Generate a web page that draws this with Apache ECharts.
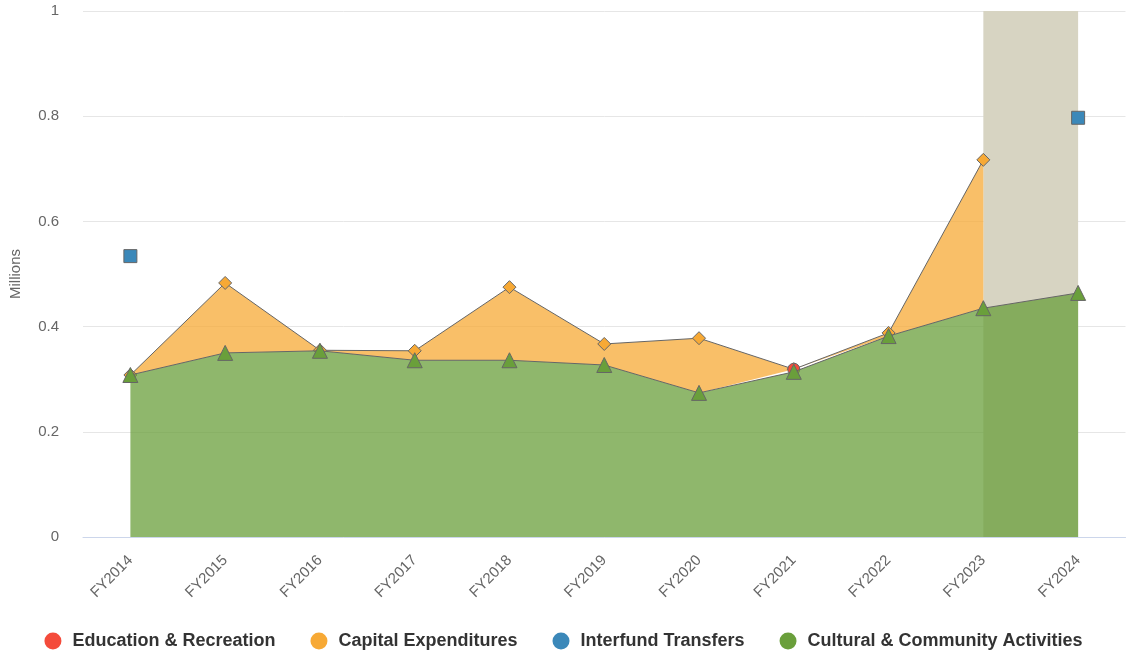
<!DOCTYPE html>
<html>
<head>
<meta charset="utf-8">
<style>
  html, body { margin: 0; padding: 0; background: #ffffff; }
  #chart { width: 1127px; height: 656px; }
</style>
<script src="https://cdn.jsdelivr.net/npm/echarts@6/dist/echarts.min.js"></script>
</head>
<body>
<div id="chart"></div>
<script>
// Fiscal years along the x axis
const years = ['FY2014', 'FY2015', 'FY2016', 'FY2017', 'FY2018', 'FY2019',
               'FY2020', 'FY2021', 'FY2022', 'FY2023', 'FY2024'];

// Values in millions, stacked in this order (bottom to top)
const culturalCommunity = [0.308, 0.350, 0.354, 0.336, 0.336, 0.327, 0.274, 0.314, 0.382, 0.435, 0.464];
const educationRecreation = [null, null, null, null, null, null, null, 0.005, null, null, null];
const capitalExpenditures = [0, 0.133, 0.001, 0.018, 0.139, 0.040, 0.104, 0, 0.006, 0.282, null];
const interfundTransfers = [0.226, null, null, null, null, null, null, null, null, null, 0.333];

// Value axis ticks
const yTicks = [0, 0.2, 0.4, 0.6, 0.8, 1];

// Budget years highlighted as a shaded band
const highlightFrom = 'FY2023';
const highlightTo = 'FY2024';

const FONT = '"Liberation Sans", Arial, Helvetica, sans-serif';
const LINE_GREY = '#666666';

const colors = {
  education: '#f44b3b',
  capital: '#f7a935',
  interfund: '#3b88b9',
  cultural: '#6a9f3b'
};

function areaSeries(name, data, color, symbol, size, z, extra) {
  return Object.assign({
    name: name,
    type: 'line',
    stack: 'total',
    data: data,
    z: z,
    symbol: symbol,
    symbolSize: size,
    showAllSymbol: true,
    connectNulls: false,
    lineStyle: { color: LINE_GREY, width: 1 },
    itemStyle: { color: color, borderColor: LINE_GREY, borderWidth: 1 },
    areaStyle: { color: color, opacity: 0.75 },
    emphasis: { disabled: true }
  }, extra || {});
}

const chart = echarts.init(document.getElementById('chart'), null, { renderer: 'canvas' });

chart.setOption({
  animation: false,
  backgroundColor: '#ffffff',
  textStyle: { fontFamily: FONT },
  grid: { left: 80.5, right: 1.5, top: 11, bottom: 119, containLabel: false },
  legend: {
    data: ['Education & Recreation', 'Capital Expenditures', 'Interfund Transfers', 'Cultural & Community Activities'],
    bottom: 1,
    left: 'center',
    icon: 'circle',
    itemWidth: 17,
    itemHeight: 17,
    itemGap: 35,
    itemStyle: { borderWidth: 0 },
    textStyle: {
      fontFamily: FONT,
      fontSize: 18,
      fontWeight: 'bold',
      color: '#333333',
      padding: [0, 0, 0, 6]
    }
  },
  xAxis: {
    type: 'category',
    data: years,
    boundaryGap: true,
    axisLine: { show: true, lineStyle: { color: '#ccd6eb', width: 1 } },
    axisTick: { show: false },
    axisLabel: {
      rotate: 45,
      margin: 21,
      color: '#666666',
      fontSize: 15,
      fontFamily: FONT,
      interval: 0
    },
    splitLine: { show: false }
  },
  yAxis: {
    type: 'value',
    min: yTicks[0],
    max: yTicks[yTicks.length - 1],
    interval: yTicks[1] - yTicks[0],
    name: 'Millions',
    nameLocation: 'middle',
    nameGap: 60,
    nameRotate: 90,
    nameTextStyle: { color: '#666666', fontSize: 15, fontFamily: FONT },
    axisLine: { show: false },
    axisTick: { show: false },
    axisLabel: {
      color: '#666666',
      fontSize: 15,
      fontFamily: FONT,
      margin: 24,
      formatter: function (v) { return String(Math.round(v * 10) / 10); }
    },
    splitLine: { show: true, lineStyle: { color: '#e6e6e6', width: 1 } }
  },
  series: [
    areaSeries('Cultural & Community Activities', culturalCommunity, colors.cultural, 'triangle', 15, 6, {
      markArea: {
        silent: true,
        z: 1,
        itemStyle: { color: '#d7d4c2', opacity: 1 },
        data: [[{ xAxis: highlightFrom }, { xAxis: highlightTo }]]
      }
    }),
    areaSeries('Education & Recreation', educationRecreation, colors.education, 'circle', 12, 4),
    areaSeries('Capital Expenditures', capitalExpenditures, colors.capital, 'diamond', 13, 3),
    areaSeries('Interfund Transfers', interfundTransfers, colors.interfund, 'rect', 13, 5)
  ]
});
</script>
</body>
</html>
